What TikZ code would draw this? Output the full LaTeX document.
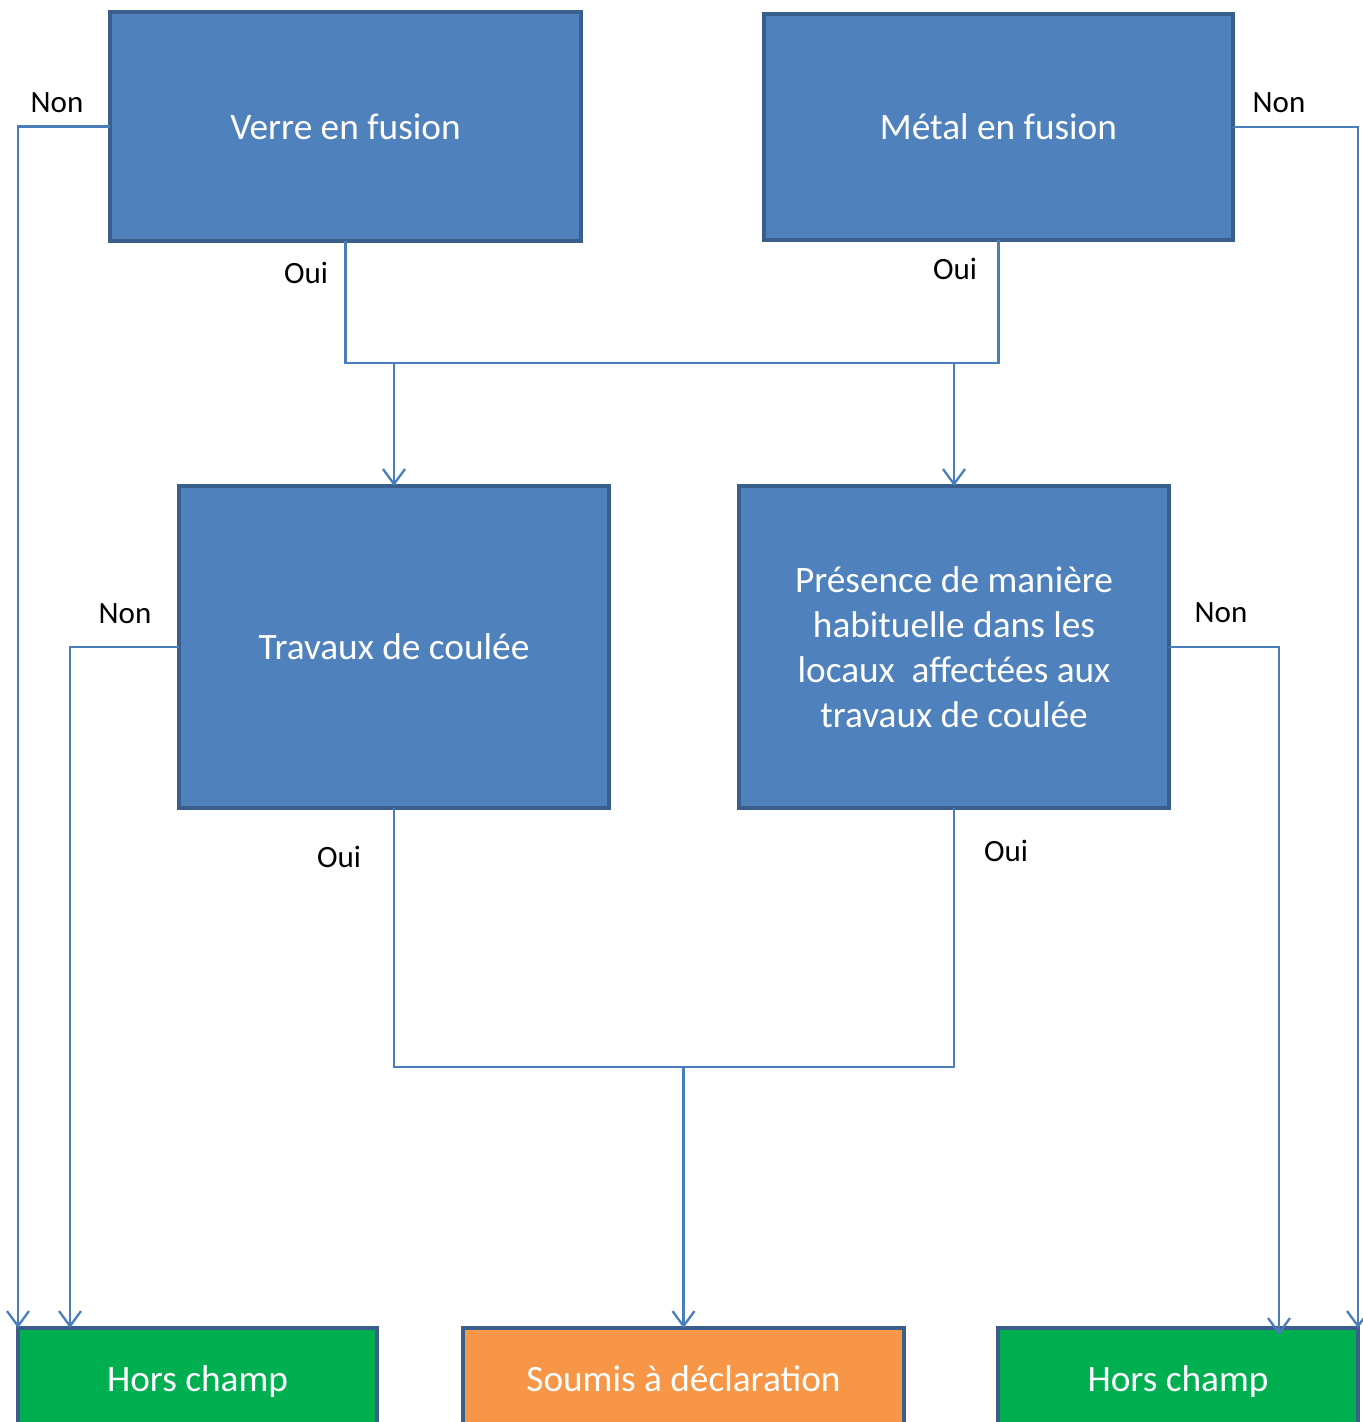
\documentclass[tikz,border=0pt]{standalone}
\usepackage{fontspec}
\setmainfont{Carlito}
\usetikzlibrary{arrows.meta,calc}
\definecolor{boxblue}{HTML}{4F81BD}
\definecolor{boxborder}{HTML}{3A5F8C}
\definecolor{linecol}{HTML}{4A7EBB}
\definecolor{boxgreen}{HTML}{00B050}
\definecolor{boxorange}{HTML}{F79646}
\begin{document}
\begin{tikzpicture}[x=1pt,y=-1pt,
  qbox/.style={draw=boxborder,line width=4pt,fill=boxblue,text=white,outer sep=0pt,
    font=\fontsize{37.3}{45}\selectfont,align=center,inner sep=0pt,anchor=center},
  resbox/.style={draw=boxborder,line width=4pt,outer sep=0pt,inner sep=0pt,anchor=north},
  restext/.style={text=white,font=\fontsize{37.3}{45}\selectfont,inner sep=0pt,anchor=base},
  conn/.style={draw=linecol,line width=2.3pt},
  arr/.style={conn,-{Straight Barb[length=15pt,width=22pt,line width=2.3pt]}},
  lbl/.style={font=\fontsize{31}{36}\selectfont,text=black,inner sep=0pt}]
\useasboundingbox (0,0) rectangle (1363,1422);
\clip (0,0) rectangle (1363,1422);
\fill[white] (0,0) rectangle (1363,1422);

% question boxes
\node[qbox,minimum width=471pt,minimum height=229pt] (verre) at (345.5,126.5) {\raisebox{-2pt}{Verre en fusion}};
\node[qbox,minimum width=469pt,minimum height=226pt] (metal) at (998.5,127) {\raisebox{-1pt}{Métal en fusion}};
\node[qbox,minimum width=430pt,minimum height=322pt] (travaux) at (394,647) {Travaux de coulée};
\node[qbox,minimum width=430pt,minimum height=322pt] (presence) at (954,647) {Présence de manière\\habituelle dans les\\locaux\ \ affectées aux\\travaux de coulée};

% result boxes (cut by the bottom edge)
\node[resbox,fill=boxgreen,minimum width=359pt,minimum height=140pt] (hcl) at (197.5,1328) {};
\node[resbox,fill=boxorange,minimum width=441pt,minimum height=140pt] (soumis) at (683.5,1328) {};
\node[resbox,fill=boxgreen,minimum width=360pt,minimum height=140pt] (hcr) at (1178,1328) {};
\node[restext] (thcl) at (197.5,1391) {Hors champ};
\node[restext] (tsoumis) at (683.5,1391) {Soumis à déclaration};
\node[restext] (thcr) at (1178,1391) {Hors champ};

% helper coordinates
\coordinate (jt) at (671,363);
\coordinate (jb) at (674,1067);
\coordinate (tl) at ($(hcl.north west)+(52,0)$);
\coordinate (tr) at ($(hcr.north west)+(281,7)$);

% connectors
\draw[arr] (verre.west) -| (hcl.north west);
\draw[arr] (metal.east) -| (hcr.north east);
\draw[conn] (verre.south) |- (jt) -| (metal.south);
\draw[arr] (travaux.north |- jt) -- (travaux.north);
\draw[arr] (presence.north |- jt) -- (presence.north);
\draw[arr] (travaux.west) -| (tl);
\draw[arr] (presence.east) -| (tr);
\draw[conn] (travaux.south) |- (jb) -| (presence.south);
\draw[arr] (soumis.north |- jb) -- (soumis.north);

% labels
\node[lbl] (n1) at (57,103) {Non};
\node[lbl] (n2) at (1279,103) {Non};
\node[lbl] (o1) at (306,273) {Oui};
\node[lbl] (o2) at (955,269) {Oui};
\node[lbl] (n3) at (125,614) {Non};
\node[lbl] (n4) at (1221,613) {Non};
\node[lbl] (o3) at (339,857) {Oui};
\node[lbl] (o4) at (1006,851) {Oui};
\end{tikzpicture}
\end{document}
